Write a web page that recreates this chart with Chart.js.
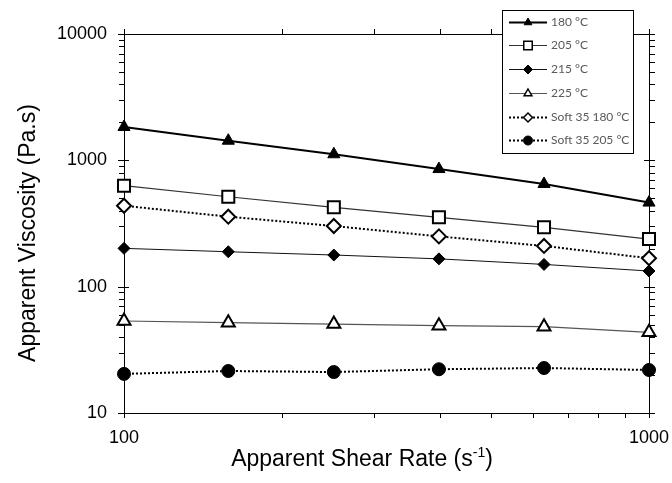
<!DOCTYPE html>
<html>
<head>
<meta charset="utf-8">
<title>Apparent viscosity vs shear rate</title>
<script src="https://cdn.jsdelivr.net/npm/chart.js@4.4.0/dist/chart.umd.min.js"></script>
<style>
  html, body { margin: 0; padding: 0; background: #fff; }
  #chart { display: block; }
</style>
</head>
<body>
<canvas id="chart" width="672" height="483"></canvas>
<script>
// data
const shearRates = [100, 158, 251, 398, 631, 1000];
const labels = ['180 °C', '205 °C', '215 °C', '225 °C', 'Soft 35 180 °C', 'Soft 35 205 °C'];
const visc180 = [1836, 1430, 1117, 853, 650, 463];
const visc205 = [630, 515, 425, 354, 295, 238];
const visc215 = [201, 189, 178, 166, 150, 133];
const visc225 = [53.5, 51.9, 50.6, 49.1, 48.2, 43.5];
const soft180 = [437, 358, 302, 250, 210, 168];
const soft205 = [20.4, 21.5, 21.1, 22.2, 22.7, 21.9];

const xMajor = [100, 1000];
const yMajor = [10, 100, 1000, 10000];

const axisFont = 'Arial, "Liberation Sans", sans-serif';

function toPoints(values) {
  return values.map((v, i) => ({ x: shearRates[i], y: v }));
}

// marker styles per series
const styles = [
  { line: '#000', width: 2, dash: [], shape: 'triangle', r: 7, fill: '#000', stroke: '#000', sw: 1 },
  { line: '#333', width: 1.2, dash: [], shape: 'rect', r: 8.5, fill: '#fff', stroke: '#000', sw: 2 },
  { line: '#111', width: 1, dash: [], shape: 'rectRot', r: 6, fill: '#000', stroke: '#000', sw: 1 },
  { line: '#555', width: 1.2, dash: [], shape: 'triangle', r: 7.5, fill: '#fff', stroke: '#000', sw: 2 },
  { line: '#000', width: 2, dash: [2, 2], shape: 'rectRot', r: 7, fill: '#fff', stroke: '#000', sw: 2 },
  { line: '#000', width: 2, dash: [2, 2], shape: 'circle', r: 6.5, fill: '#000', stroke: '#000', sw: 1 }
];
const series = [visc180, visc205, visc215, visc225, soft180, soft205];

const datasets = series.map((vals, i) => {
  const s = styles[i];
  return {
    label: labels[i],
    data: toPoints(vals),
    borderColor: s.line,
    borderWidth: s.width,
    borderDash: s.dash,
    pointStyle: s.shape,
    pointRadius: s.r,
    pointBackgroundColor: s.fill,
    pointBorderColor: s.stroke,
    pointBorderWidth: s.sw,
    tension: 0,
    clip: false
  };
});

// small marker drawing for the legend
function drawMarker(ctx, s, x, y, r) {
  ctx.save();
  ctx.setLineDash([]);
  ctx.fillStyle = s.fill;
  ctx.strokeStyle = s.stroke;
  ctx.lineWidth = Math.min(s.sw, 1.5);
  ctx.beginPath();
  if (s.shape === 'triangle') {
    ctx.moveTo(x, y - r);
    ctx.lineTo(x + r * 0.866, y + r * 0.5);
    ctx.lineTo(x - r * 0.866, y + r * 0.5);
    ctx.closePath();
  } else if (s.shape === 'rect') {
    const h = r * 0.707;
    ctx.rect(x - h, y - h, 2 * h, 2 * h);
  } else if (s.shape === 'rectRot') {
    ctx.moveTo(x, y - r);
    ctx.lineTo(x + r, y);
    ctx.lineTo(x, y + r);
    ctx.lineTo(x - r, y);
    ctx.closePath();
  } else {
    ctx.arc(x, y, r, 0, Math.PI * 2);
  }
  ctx.fill();
  ctx.stroke();
  ctx.restore();
}

// frame with outward ticks on all four sides
const framePlugin = {
  id: 'frame',
  beforeDatasetsDraw(chart) {
    const { ctx, chartArea: a, scales } = chart;
    const xs = scales.x, ys = scales.y;
    ctx.save();
    ctx.strokeStyle = '#000';
    ctx.lineWidth = 1;
    ctx.beginPath();
    ctx.rect(a.left + 0.5, a.top + 0.5, a.right - a.left, a.bottom - a.top);
    ctx.stroke();
    ctx.beginPath();
    // y ticks
    for (let d = 10; d <= 10000; d *= 10) {
      for (let k = 1; k <= 9; k++) {
        const v = d * k;
        if (v < 10 || v > 10000) continue;
        const py = Math.round(ys.getPixelForValue(v)) + 0.5;
        const major = k === 1;
        ctx.moveTo(a.left - (major ? 6 : 5), py);
        ctx.lineTo(a.left + (major ? 5 : 0), py);
        ctx.moveTo(a.right + 6, py);
        ctx.lineTo(a.right - (major ? 5 : 0), py);
      }
    }
    // x ticks
    for (let k = 1; k <= 10; k++) {
      const v = 100 * k;
      const px = Math.round(xs.getPixelForValue(v)) + 0.5;
      const major = k === 1 || k === 10;
      ctx.moveTo(px, a.bottom + 5);
      ctx.lineTo(px, a.bottom - (major ? 4 : 0));
      ctx.moveTo(px, a.top - 5);
      ctx.lineTo(px, a.top + (major ? 4 : 0));
    }
    ctx.stroke();
    ctx.restore();
  },
  afterDraw(chart) {
    const { ctx } = chart;
    ctx.save();
    ctx.fillStyle = '#000';
    // y title
    ctx.font = '23px ' + axisFont;
    ctx.translate(29, 233);
    ctx.rotate(-Math.PI / 2);
    ctx.textAlign = 'center';
    ctx.textBaseline = 'middle';
    ctx.fillText('Apparent Viscosity (Pa.s)', 0, 0);
    ctx.restore();

    // x title with superscript
    ctx.save();
    ctx.fillStyle = '#000';
    ctx.textBaseline = 'alphabetic';
    const main = 'Apparent Shear Rate (s';
    const sup = '-1';
    const big = '23px ' + axisFont, small = '14px ' + axisFont;
    ctx.font = big;
    const w1 = ctx.measureText(main).width;
    const w3 = ctx.measureText(')').width;
    ctx.font = small;
    const w2 = ctx.measureText(sup).width;
    let x = 362 - (w1 + w2 + w3) / 2;
    const base = 466;
    ctx.font = big;
    ctx.textAlign = 'left';
    ctx.fillText(main, x, base);
    x += w1;
    ctx.font = small;
    ctx.fillText(sup, x, base - 9);
    x += w2;
    ctx.font = big;
    ctx.fillText(')', x, base);
    ctx.restore();

    // legend box
    ctx.save();
    ctx.fillStyle = '#fff';
    ctx.fillRect(502, 10, 131, 143);
    ctx.strokeStyle = '#000';
    ctx.lineWidth = 1;
    ctx.strokeRect(502.5, 10.5, 131, 143);
    ctx.font = '12px Lato, "Open Sans", sans-serif';
    ctx.textBaseline = 'middle';
    ctx.textAlign = 'left';
    labels.forEach((lab, i) => {
      const s = styles[i];
      const y = Math.round(21.7 + i * 23.7) + 0.5;
      ctx.save();
      ctx.strokeStyle = s.line;
      ctx.lineWidth = s.width;
      ctx.setLineDash(s.dash);
      ctx.beginPath();
      ctx.moveTo(509, y);
      ctx.lineTo(547, y);
      ctx.stroke();
      ctx.restore();
      drawMarker(ctx, s, 528, y, s.shape === 'rect' ? 6 : 4.5);
      ctx.fillStyle = '#595959';
      ctx.fillText(lab, 551, y);
    });
    ctx.restore();
  }
};

const ctx = document.getElementById('chart');

const chart = new Chart(ctx, {
  type: 'line',
  data: { datasets: datasets },
  options: {
    responsive: false,
    animation: false,
    devicePixelRatio: 1,
    layout: { padding: { left: 0, top: 34, right: 23, bottom: 0 } },
    plugins: {
      legend: { display: false },
      tooltip: { enabled: false }
    },
    scales: {
      x: {
        type: 'logarithmic',
        position: 'bottom',
        min: 100,
        max: 1000,
        grid: { display: false, drawTicks: false },
        border: { display: false },
        afterBuildTicks: scale => { scale.ticks = xMajor.map(v => ({ value: v })); },
        afterFit: scale => {
          scale.height = 70;
          scale.paddingLeft = 0;
          scale.paddingRight = 0;
        },
        ticks: {
          autoSkip: false,
          maxRotation: 0,
          padding: 14,
          color: '#000',
          font: { family: axisFont, size: 18 },
          callback: v => String(v)
        }
      },
      y: {
        type: 'logarithmic',
        position: 'left',
        min: 10,
        max: 10000,
        grid: { display: false, drawTicks: false },
        border: { display: false },
        afterBuildTicks: scale => { scale.ticks = yMajor.map(v => ({ value: v })); },
        afterFit: scale => {
          scale.width = 124;
          scale.paddingTop = 0;
          scale.paddingBottom = 0;
        },
        ticks: {
          autoSkip: false,
          padding: 17,
          color: '#000',
          font: { family: axisFont, size: 18 },
          callback: v => String(v)
        }
      }
    }
  },
  plugins: [framePlugin]
});
</script>
</body>
</html>
